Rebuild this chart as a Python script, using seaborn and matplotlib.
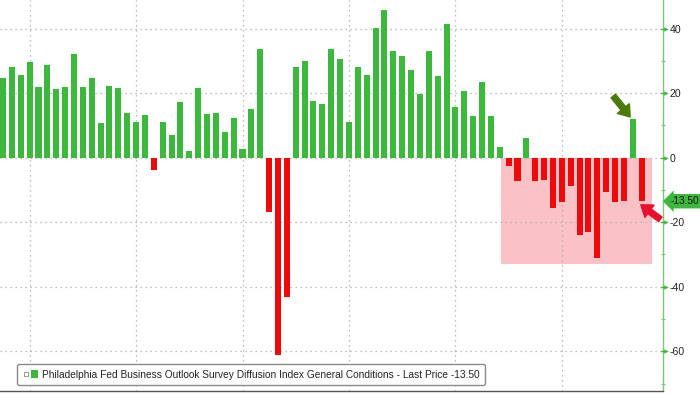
import numpy as np
import pandas as pd
import matplotlib
matplotlib.use("Agg")
import matplotlib.pyplot as plt
import matplotlib.transforms as mtransforms
from matplotlib.patches import Patch, Rectangle
from matplotlib.lines import Line2D
from matplotlib.legend_handler import HandlerTuple
import seaborn as sns

# ---- data (monthly, Sep 2017 .. Sep 2023) ----
months = [d.strftime("%Y-%m") for d in pd.date_range("2017-09-01", periods=73, freq="MS")]
values = [24.6, 28.2, 25.6, 29.7, 22.0, 28.7, 21.2, 22.0, 32.2, 22.0, 24.6, 10.6,
          22.3, 21.6, 13.9, 11.1, 13.2, -3.7, 11.1, 7.0, 17.4, 2.0, 21.6, 13.5,
          13.7, 7.9, 12.4, 2.7, 15.0, 33.6, -16.9, -61.0, -43.1, 28.0, 29.9, 17.7,
          16.7, 33.6, 30.5, 11.1, 28.0, 25.6, 40.3, 45.8, 32.9, 31.5, 27.3, 19.8,
          32.9, 25.3, 41.5, 15.6, 20.8, 12.8, 23.3, 13.0, 3.3, -2.7, -7.2, 6.1,
          -7.2, -7.0, -15.5, -13.7, -8.8, -24.1, -23.1, -31.1, -10.5, -13.7, -13.4,
          12.0, -13.5]
y_ticks = [-60, -40, -20, 0, 20, 40]
y_minor = [-70, -50, -30, -10, 10, 30]
last_label = "-13.50"
legend_text = ("Philadelphia Fed Business Outlook Survey Diffusion Index "
               "General Conditions - Last Price -13.50")

GREEN = "#3cb83c"
RED = "#ee0a0a"
PINK = "#fac2c6"
GRID = "#a8a8a8"

df = pd.DataFrame({"month": months, "value": values})
df["sign"] = np.where(df["value"] >= 0, "pos", "neg")

sns.set_style("white")
plt.rcParams["font.family"] = ["Liberation Sans", "DejaVu Sans"]
plt.rcParams["axes.unicode_minus"] = False

fig = plt.figure(figsize=(7.0, 3.94), dpi=100)
ax = fig.add_axes([0.0, 3.3 / 394, 662.7 / 700, 390.7 / 394])

sns.barplot(data=df, x="month", y="value", hue="sign", order=months,
            palette={"pos": GREEN, "neg": RED}, dodge=False, width=0.68,
            saturation=1, linewidth=0, legend=False, ax=ax, zorder=3)

ax.set_xlim(-0.34, 74.37)
ax.set_ylim(-72.2, 48.85)
ax.set_xlabel("")
ax.set_ylabel("")

# shaded recent region
ax.add_patch(Rectangle((56.1, -33.0), 17.1, 33.0, facecolor=PINK,
                       edgecolor="none", zorder=0.5))

# grid
for yv in y_ticks:
    ax.axhline(yv, color=GRID, lw=0.9, ls=(0, (1, 3)), zorder=1)
for i, m in enumerate(months):
    if m.endswith("-12"):
        ax.axvline(i, color=GRID, lw=0.9, ls=(0, (1, 3)), zorder=1)

# spines
for s in ["top", "left"]:
    ax.spines[s].set_visible(False)
ax.spines["right"].set_color("#7cc67c")
ax.spines["right"].set_linewidth(1.0)
ax.spines["bottom"].set_color("#555555")
ax.spines["bottom"].set_linewidth(1.0)

# x ticks: quarterly, no labels
ax.set_xticks(list(range(0, len(months), 3)))
ax.set_xticklabels([])
ax.tick_params(axis="x", direction="out", length=3, width=0.9, color="#555555")

# y axis on right
ax.yaxis.tick_right()
ax.set_yticks(y_ticks)
ax.set_yticklabels([str(v) for v in y_ticks])
ax.set_yticks(y_minor, minor=True)
ax.tick_params(axis="y", which="major", length=0, pad=4.8, labelsize=7.6,
               labelcolor="#222222")
ax.tick_params(axis="y", which="minor", direction="inout", length=3,
               width=0.9, color="#7cc67c")
trans = mtransforms.blended_transform_factory(ax.transAxes, ax.transData)
for yv in y_ticks:
    ax.plot([0.997, 1.004], [yv, yv], transform=trans, color="#3cb83c",
            lw=1.0, clip_on=False, zorder=5)
    ax.plot([1.0045], [yv], transform=trans, marker=">", ms=3.2,
            color="#3cb83c", clip_on=False, zorder=5, mec="none")

# last price tag
ax.annotate(last_label, xy=(1.0, values[-1]), xycoords=trans,
            xytext=(8, 0), textcoords="offset pixels", ha="left", va="center",
            fontsize=7.2, color="#111111", annotation_clip=False,
            bbox=dict(boxstyle="larrow,pad=0.22", fc=GREEN, ec="none"))

# arrows
astyle = "simple,head_length=0.6,head_width=0.85,tail_width=0.32"
ax.annotate("", xy=(70.7, 12.6), xytext=(68.8, 19.1),
            arrowprops=dict(arrowstyle=astyle, color="#4a7a08",
                            mutation_scale=13, shrinkA=0, shrinkB=0),
            zorder=6)
ax.annotate("", xy=(71.9, -14.6), xytext=(74.1, -19.1),
            arrowprops=dict(arrowstyle=astyle, color="#e8102a",
                            mutation_scale=13, shrinkA=0, shrinkB=0),
            zorder=6)

# legend
icon = Line2D([], [], marker="s", ms=3.5, mfc="white", mec="#999999",
              mew=0.7, ls="none")
swatch = Patch(facecolor=GREEN, edgecolor="none")
leg = ax.legend([(icon, swatch)], [legend_text], loc="lower left",
                bbox_to_anchor=(17 / 662.7, (9 - 3.3) / 390.7), borderaxespad=0,
                handler_map={tuple: HandlerTuple(ndivide=None, pad=0.1)},
                handlelength=1.55, handleheight=0.75, handletextpad=0.42,
                borderpad=0.52, fontsize=7.3, frameon=True, fancybox=True,
                framealpha=1)
leg.get_frame().set_edgecolor("#8a8a8a")
leg.get_frame().set_linewidth(1.0)
leg.set_zorder(10)
for t in leg.get_texts():
    t.set_color("#222222")

fig.savefig("out.png", dpi=100)
